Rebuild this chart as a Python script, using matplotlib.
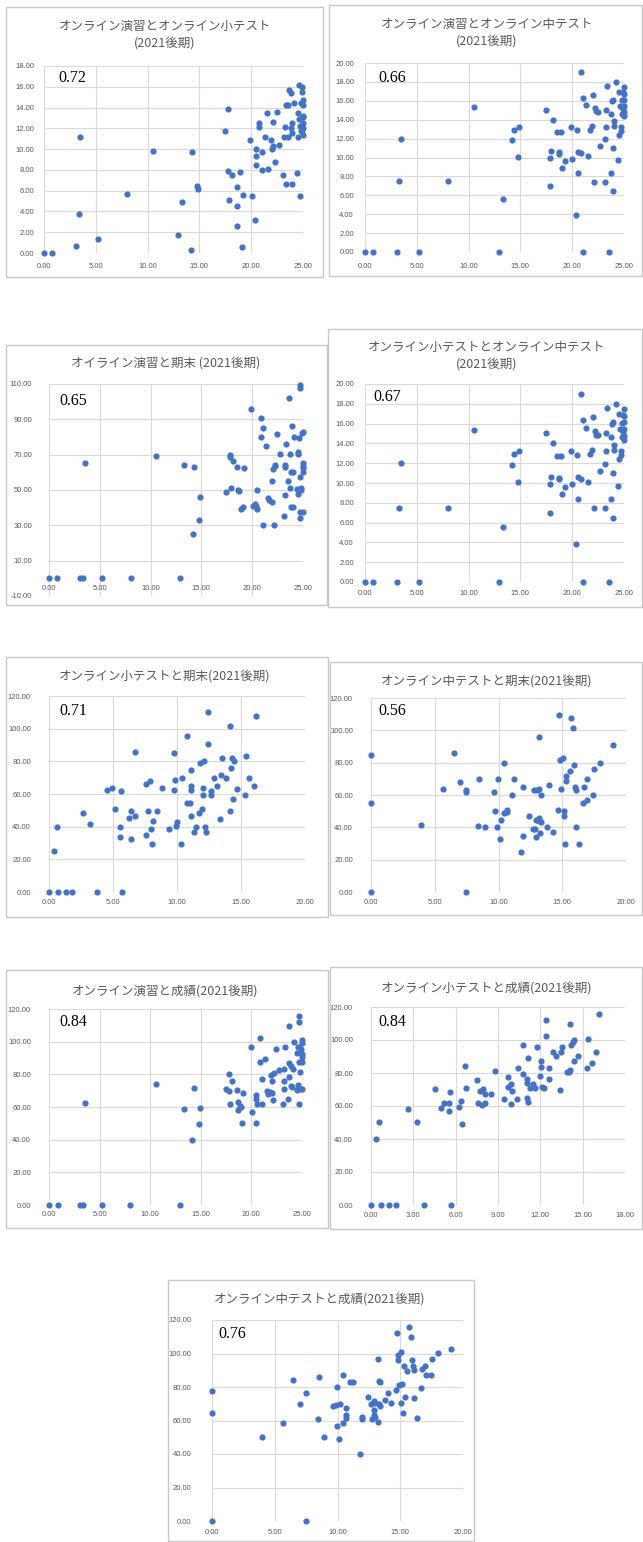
import numpy as np
import matplotlib
matplotlib.use("Agg")
import matplotlib.pyplot as plt
from matplotlib.patches import Rectangle
from matplotlib.ticker import FormatStrFormatter

# オンライン演習 / 小テスト / 中テスト / 期末 / 成績 (2021後期)

# 演習 vs 小テスト
p1_x = [0, 0.77, 3.5, 3.35, 3.1, 5.2, 7.98, 10.5, 12.9, 13.35, 14.15, 14.3, 14.74, 14.9,
        17.43, 17.8, 17.8, 17.9, 18.15, 18.6, 18.66, 18.66, 18.95, 19.08, 19.18, 19.88,
        20.04, 20.4, 20.43, 20.5, 20.5, 20.8, 20.8, 21.04, 21.04, 21.3, 21.52, 21.65,
        21.94, 22.04, 22.1, 22.1, 22.26, 22.5, 22.68, 23.1, 23.2, 23.23, 23.33, 23.33,
        23.58, 23.6, 23.68, 23.8, 23.84, 23.9, 23.94, 23.97, 24.1, 24.38, 24.5, 24.5,
        24.58, 24.64, 24.68, 24.74, 24.84, 24.87, 24.9, 24.95, 25, 25, 25, 25, 25, 25,
        25, 24.8]
p1_y = [0, 0, 11.16, 3.74, 0.67, 1.31, 5.66, 9.85, 1.73, 4.92, 0.32, 9.72, 6.42, 6.2,
        11.7, 13.9, 7.86, 5.12, 7.54, 4.5, 6.36, 2.62, 7.83, 0.58, 5.6, 10.87,
        5.5, 3.2, 9.33, 8.47, 9.97, 12.5, 12.14, 9.69, 8.02, 11.2, 13.43, 8.05,
        10.87, 10.0, 12.6, 10.3, 8.76, 13.55, 10.39, 7.54, 11.13, 12.14, 6.68, 14.2,
        11.16, 14.2, 15.66, 15.4, 12.05, 6.62, 11.54, 12.56, 14.48, 7.7, 13.5, 11.16,
        12.88, 16.2, 5.53, 12.2, 14.4, 11.83, 16.0, 15.5, 14.75, 14.2, 13.2, 13.1, 12.5,
        12.0, 11.4, 11.7]

# 演習 vs 中テスト
p2_x = [0, 0.8, 3.13, 5.26, 12.97, 21.06, 23.58, 3.52, 3.32, 8.03, 10.55, 13.35, 14.16,
        14.35, 14.9, 14.77, 17.45, 17.84, 17.87, 17.97, 18.16, 18.55, 18.71, 18.71, 18.94,
        19.06, 19.26, 19.9, 20.0, 20.39, 20.48, 20.52, 20.58, 20.84, 20.87, 21.06, 22.1,
        21.35, 21.55, 21.68, 21.9, 22.0, 22.19, 22.26, 22.45, 22.71, 23.16, 23.19, 23.23,
        23.29, 23.32, 23.74, 23.74, 23.81, 23.9, 23.97, 24.0, 24.0, 23.94, 24.19, 24.42,
        24.52, 24.55, 24.58, 24.71, 24.71, 24.77, 24.87, 24.94, 25, 25, 25, 25, 25, 25,
        24.84]
p2_y = [0, 0, 0, 0, 0, 0, 0, 11.99, 7.48, 7.48, 15.34, 5.57, 11.85,
        12.95, 13.23, 10.09, 15.06, 6.95, 9.91, 10.65, 14.0, 12.7, 10.55, 10.37, 12.7,
        8.85, 9.59, 13.23, 9.88, 3.88, 12.87, 8.36, 10.58, 19.01, 10.44, 16.33, 7.44,
        15.56, 10.12, 12.95, 13.3, 16.65, 15.24, 14.89, 14.85, 11.18, 11.96, 7.44, 13.23,
        15.06, 17.6, 8.4, 14.64, 15.94, 11.04, 6.42, 13.83, 13.37, 16.12, 17.99, 9.7,
        16.93, 12.42, 15.41, 12.84, 13.23, 16.05, 16.9, 15.13, 17.46, 16.75, 16.12, 15.48,
        14.78, 14.36, 14.6]

# 演習 vs 期末
p3_x = [0, 0.79, 3.06, 3.32, 5.26, 8.03, 12.9, 3.52, 10.49, 13.32, 14.31, 14.14, 14.77,
        14.87, 17.43, 17.8, 17.83, 17.93, 18.09, 18.52, 18.65, 18.68, 18.88, 19.05, 19.18,
        19.9, 20.03, 20.23, 20.4, 20.43, 20.46, 20.82, 20.82, 21.02, 21.05, 21.32, 21.51,
        21.68, 21.94, 21.94, 22.04, 22.17, 22.2, 22.24, 22.47, 22.7, 23.09, 23.19, 23.19,
        23.29, 23.26, 23.52, 23.65, 23.68, 23.72, 23.82, 23.85, 23.91, 23.98, 24.05, 24.14,
        24.37, 24.47, 24.5, 24.54, 24.64, 24.67, 24.67, 24.67, 24.7, 24.74, 24.8, 24.93,
        24.97, 24.97, 24.97, 24.97, 24.97, 24.97, 24.84]
p3_y = [0, 0, 0, 0, 0, 0, 0, 65.2, 69.2, 64.1, 63.2, 25.3, 33.3,
        46.3, 48.8, 70.0, 68.4, 51.4, 66.6, 63.2, 49.9, 49.2, 39.3, 40.5, 62.2,
        95.9, 40.7, 42.0, 41.2, 39.5, 50.1, 90.9, 80.0, 85.1, 30.3, 75.1, 45.4,
        44.4, 43.3, 55.2, 62.0, 30.3, 63.7, 64.3, 81.9, 70.2, 35.4, 63.3, 64.1,
        76.0, 47.3, 55.0, 101.9, 51.1, 70.2, 40.1, 60.3, 86.2, 40.1, 60.3, 80.2,
        50.5, 71.5, 70.2, 47.5, 79.2, 34.4, 107.8, 109.7, 57.1, 37.4, 50.0, 82.1,
        83.0, 65.4, 63.7, 62.2, 60.0, 37.4, 50.9]

# 小テスト vs 中テスト (same values as the 演習 vs 中テスト sheet)
p4_x = list(p2_x)
p4_y = list(p2_y)

# 小テスト vs 期末
p5_x = [0, 0.73, 1.36, 1.77, 3.78, 5.71, 0.37, 0.6, 2.66, 3.23, 4.54, 4.95, 5.16, 5.63,
        5.53, 5.55, 6.28, 6.41, 6.44, 6.68, 6.73, 7.56, 7.56, 7.77, 7.9, 7.93, 8.11, 8.03,
        8.47, 8.84, 9.41, 9.73, 9.75, 9.88, 9.93, 10.01, 10.38, 10.35, 10.82, 10.82,
        11.03, 11.08, 11.13, 11.08, 11.13, 11.29, 11.5, 11.79, 11.68, 11.99, 12.1, 12.07,
        12.07, 12.15, 12.26, 12.46, 12.44, 12.62, 12.62, 12.91, 13.14, 13.38, 13.48, 13.45,
        13.84, 14.13, 14.13, 14.18, 14.26, 14.39, 14.42, 14.7, 15.31, 15.41, 15.6, 15.98,
        16.17]
p5_y = [0, 0, 0, 0, 0, 0, 24.9, 39.6, 48.6, 41.6, 62.7, 63.7, 50.6, 61.6,
        39.8, 33.7, 45.5, 49.6, 32.4, 85.9, 46.5, 65.9, 34.7, 49.6, 67.8, 38.6, 43.7, 29.6,
        49.6, 63.9, 38.6, 84.9, 62.7, 68.8, 40.6, 42.7, 70.0, 29.6, 95.7, 54.7,
        54.7, 46.5, 74.9, 62.7, 64.9, 36.5, 39.8, 78.8, 48.6, 50.6, 80.0, 63.9,
        59.6, 39.8, 36.7, 110.0, 90.8, 61.8, 59.6, 69.8, 64.9, 44.7, 82.0, 71.8,
        69.8, 101.8, 49.6, 75.9, 82.0, 56.7, 80.0, 62.9, 59.6, 83.1, 69.8, 64.9,
        107.8]

# 中テスト vs 期末
p6_x = [0, 0, 0, 3.92, 5.62, 6.48, 6.98, 7.45, 7.45, 7.48, 8.39, 8.5, 8.92, 9.68, 9.75,
        9.91, 9.99, 10.12, 10.2, 10.4, 10.46, 10.67, 10.69, 11.06, 11.22, 11.79, 11.92,
        11.95, 12.42, 12.71, 12.79, 12.89, 12.92, 12.94, 13.0, 13.18, 13.18, 13.2, 13.2,
        13.26, 13.31, 13.36, 13.8, 13.99, 14.3, 14.72, 14.67, 14.8, 14.93, 15.06, 15.11,
        15.11, 15.22, 15.3, 15.32, 15.58, 15.71, 15.82, 15.92, 16.03, 16.05, 16.08, 16.31,
        16.6, 16.71, 16.94, 16.97, 17.44, 17.52, 17.93, 18.95]
p6_y = [0, 84.9, 54.8, 41.7, 63.6, 85.7, 67.8, 62.8, 61.6, 0, 40.9, 69.6, 39.9, 61.8, 49.8,
        39.9, 69.6, 32.9, 44.8, 79.8, 48.6, 50.8, 49.6, 59.7, 69.8, 24.8, 34.7,
        64.9, 46.9, 39.0, 62.8, 39.0, 33.9, 44.6, 63.0, 63.6, 43.8, 95.7, 45.9,
        36.6, 59.9, 43.0, 40.1, 65.9, 37.0, 109.7, 50.8, 81.6, 63.6, 82.6, 49.8,
        47.1, 29.8, 71.7, 68.8, 74.8, 107.9, 101.7, 78.7, 64.9, 63.0, 39.9, 29.8,
        54.8, 64.9, 69.8, 56.8, 59.7, 75.8, 79.8, 90.9]

# 演習 vs 成績
p7_x = [0, 0.86, 3.1, 3.36, 5.27, 8.04, 12.91, 3.56, 10.57, 13.37, 14.36, 14.16, 14.82,
        14.89, 17.49, 17.79, 17.82, 17.92, 18.12, 18.54, 18.68, 18.68, 18.84, 18.94, 19.04,
        19.2, 19.96, 20.03, 20.42, 20.45, 20.49, 20.59, 20.85, 20.85, 21.02, 21.05, 21.31,
        21.5, 21.67, 21.87, 21.9, 22.03, 22.07, 22.17, 22.2, 22.46, 22.69, 23.09, 23.19,
        23.19, 23.26, 23.32, 23.59, 23.68, 23.72, 23.75, 23.88, 23.91, 24.05, 24.1, 24.17,
        24.47, 24.54, 24.57, 24.64, 24.67, 24.7, 24.7, 24.74, 24.8, 24.87, 24.93, 24.97,
        24.97, 24.97, 24.97, 24.97, 25.0]
p7_y = [0, 0, 0, 0, 0, 0, 0, 62.2, 73.8, 58.7, 71.6, 39.9, 49.3,
        59.3, 70.8, 70.1, 80.2, 61.6, 76.1, 70.3, 63.2, 58.3, 60.9, 59.9, 50.1,
        68.5, 96.5, 57.1, 50.3, 67.1, 65.0, 61.6, 87.5, 102.0, 77.3, 61.6, 89.4,
        69.9, 68.1, 69.1, 79.8, 68.7, 76.1, 64.2, 81.0, 95.7, 82.8, 61.6, 76.1,
        83.2, 71.0, 96.7, 65.0, 109.6, 78.3, 86.7, 85.1, 73.0, 72.0, 83.0, 100.0,
        70.3, 93.0, 73.6, 96.5, 115.7, 61.6, 112.3, 87.3, 81.6, 71.2, 95.3, 101.2,
        99.4, 92.6, 90.8, 87.3, 70.8]

# 小テスト vs 成績
p8_x = [0, 0.71, 1.3, 1.77, 3.77, 5.66, 0.35, 0.57, 2.64, 3.23, 4.51, 4.95, 5.17, 5.52,
        5.52, 5.61, 6.25, 6.39, 6.44, 6.65, 6.7, 7.53, 7.57, 7.74, 7.88, 7.95, 8.09, 8.09,
        8.47, 8.82, 9.41, 9.72, 9.74, 9.91, 9.98, 9.93, 10.33, 10.4, 10.8, 10.8, 11.02,
        11.02, 11.09, 11.13, 11.16, 11.28, 11.47, 11.63, 11.77, 11.98, 12.05, 12.08, 12.15,
        12.27, 12.43, 12.43, 12.62, 12.62, 12.9, 13.14, 13.42, 13.45, 13.54, 13.89, 14.01,
        14.13, 14.13, 14.18, 14.3, 14.39, 14.41, 14.7, 15.33, 15.4, 15.64, 15.97, 16.18]
p8_y = [0, 0, 0, 0, 0, 0, 39.8, 50.1, 58.2, 50.3, 70.5, 58.8, 61.8, 61.8,
        57.2, 68.5, 59.4, 63.2, 49.3, 84.2, 70.9, 76.0, 61.8, 69.3, 60.8, 70.1, 67.1, 61.8,
        67.1, 81.2, 64.2, 77.4, 71.5, 73.5, 69.1, 61.0, 64.2, 82.8, 79.6, 96.8, 65.1,
        74.1, 76.6, 62.4, 89.3, 70.9, 73.1, 71.1, 96.0, 78.4, 87.5, 83.8, 71.7,
        70.7, 112.3, 102.2, 82.8, 76.2, 92.9, 90.5, 69.7, 92.9, 96.0, 80.4, 80.8,
        109.5, 81.8, 96.8, 98.8, 87.5, 100.2, 90.3, 83.0, 100.8, 86.3, 92.5, 116.0]

# 中テスト vs 成績
p9_x = [0, 0, 0, 3.95, 5.62, 6.49, 7.02, 7.5, 7.5, 8.42, 8.5, 8.93, 9.67, 9.93, 9.93,
        9.88, 10.15, 10.23, 10.44, 10.41, 10.65, 10.68, 10.7, 11.02, 11.2, 11.81, 11.95,
        11.95, 12.42, 12.69, 12.77, 12.87, 12.93, 12.93, 13.0, 13.0, 13.22, 13.22, 13.27,
        13.3, 13.35, 13.38, 13.8, 13.99, 14.28, 14.73, 14.65, 14.83, 14.81, 14.91, 15.05,
        15.05, 15.16, 15.18, 15.31, 15.34, 15.55, 15.7, 15.86, 15.97, 16.03, 16.08, 16.08,
        16.32, 16.66, 16.74, 17.0, 17.03, 17.48, 17.56, 17.99, 19.02]
p9_y = [0, 77.4, 64.7, 50.3, 58.7, 84.2, 70.0, 76.2, 0, 61.1, 86.2, 50.1, 68.7, 80.2, 56.9,
        69.5, 49.2, 69.9, 87.2, 58.3, 67.3, 63.3, 61.3, 83.2, 82.8, 39.8, 62.3,
        61.1, 73.8, 70.0, 61.1, 71.6, 63.3, 66.5, 70.7, 62.3, 96.7, 59.3, 69.9,
        83.4, 68.7, 82.8, 72.2, 76.2, 70.7, 112.4, 78.2, 96.1, 99.1, 81.0, 100.9,
        70.7, 81.6, 64.3, 92.5, 73.8, 89.6, 116.0, 109.7, 96.1, 92.5, 90.1, 73.4,
        61.5, 79.6, 90.7, 92.7, 87.2, 87.2, 96.9, 100.5, 102.5]

titles = [
    "オンライン演習とオンライン小テスト\n(2021後期)",
    "オンライン演習とオンライン中テスト\n(2021後期)",
    "オイライン演習と期末 (2021後期)",
    "オンライン小テストとオンライン中テスト\n(2021後期)",
    "オンライン小テストと期末(2021後期)",
    "オンライン中テストと期末(2021後期)",
    "オンライン演習と成績(2021後期)",
    "オンライン小テストと成績(2021後期)",
    "オンライン中テストと成績(2021後期)",
]
corr_labels = ["0.72", "0.66", "0.65", "0.67", "0.71", "0.56", "0.84", "0.84", "0.76"]

# axis scales: (xmax, xstep, ymin, ymax, ystep)
scales = [
    (25, 5, 0, 18, 2),
    (25, 5, 0, 20, 2),
    (25, 5, -10, 110, 20),
    (25, 5, 0, 20, 2),
    (20, 5, 0, 120, 20),
    (20, 5, 0, 120, 20),
    (25, 5, 0, 120, 20),
    (18, 3, 0, 120, 20),
    (20, 5, 0, 120, 20),
]

series = [(p1_x, p1_y), (p2_x, p2_y), (p3_x, p3_y), (p4_x, p4_y), (p5_x, p5_y),
          (p6_x, p6_y), (p7_x, p7_y), (p8_x, p8_y), (p9_x, p9_y)]

# layout in pixels
W, H = 643, 1542
# chart frame: left, right, top, bottom
frames = [(6, 323, 7, 277), (329, 642, 5, 276), (6, 327, 345, 605), (328, 642, 329, 607),
          (6, 328, 657, 917), (330, 642, 662, 915), (6, 328, 970, 1228),
          (330, 642, 967, 1229), (168, 474, 1280, 1541)]
# plot area: left, right, top, bottom
plots = [(44, 303, 66, 253), (365, 624, 63, 252), (49, 303, 384, 596), (365, 624, 384, 582),
         (49, 305, 696, 892), (371, 626, 698, 892), (49, 302, 1009, 1205),
         (371, 625, 1007, 1205), (212, 463, 1320, 1521)]
# title centre (x, y)
title_pos = [(165, 35), (487, 33), (166, 363), (487, 356), (165, 676), (487, 681),
             (165, 991), (487, 988), (320, 1299)]
# r label left / centre y
corr_pos = [(58, 78), (378, 78), (59, 401), (373, 397), (59, 711), (378, 711),
            (59, 1022), (378, 1022), (218, 1334)]
ypads = [7, 8, 12, 8, 13, 13, 13, 13, 15]
xpads = [7, 8, 5, 6, 5, 5, 4.5, 5, 6]

DOT = "#4472C4"
GRID = "#D9D9D9"
TXT = "#595959"
FRAME = "#C8C8C8"

fig = plt.figure(figsize=(W / 100, H / 100), dpi=100)
fig.patch.set_facecolor("white")

for i in range(len(series)):
    fl, fr, ft, fb = frames[i]
    fig.add_artist(Rectangle((fl / W, 1 - fb / H), (fr - fl) / W, (fb - ft) / H,
                             transform=fig.transFigure, fill=False, ec=FRAME, lw=1.0))

    x0, x1, yt, yb = plots[i]
    ax = fig.add_axes([x0 / W, 1 - yb / H, (x1 - x0) / W, (yb - yt) / H])
    xmax, xstep, ymin, ymax, ystep = scales[i]
    xs, ys = series[i]

    ax.scatter(xs, ys, s=20, color=DOT, linewidths=0, zorder=3, clip_on=False)

    ax.set_xlim(0, xmax)
    ax.set_ylim(ymin, ymax)
    ax.set_xticks(np.arange(0, xmax + 0.01, xstep))
    ax.set_yticks(np.arange(ymin, ymax + 0.01, ystep))
    ax.xaxis.set_major_formatter(FormatStrFormatter("%.2f"))
    ax.yaxis.set_major_formatter(FormatStrFormatter("%.2f"))
    ax.grid(True, color=GRID, lw=0.8)
    ax.set_axisbelow(True)
    for side in ax.spines:
        ax.spines[side].set_visible(False)
    if ymin < 0:
        # horizontal axis crosses at zero
        ax.spines["bottom"].set_position(("data", 0))
    ax.tick_params(axis="both", length=0, labelsize=5.5, labelcolor=TXT)
    ax.tick_params(axis="y", pad=ypads[i])
    ax.tick_params(axis="x", pad=xpads[i])
    for lab in ax.get_xticklabels() + ax.get_yticklabels():
        lab.set_fontfamily("Liberation Sans")

    tx, ty = title_pos[i]
    fig.text(tx / W, 1 - ty / H, titles[i], ha="center", va="center",
             fontsize=9, color=TXT, family=["Noto Sans CJK JP", "DejaVu Sans"],
             linespacing=1.35)

    cx, cy = corr_pos[i]
    fig.text(cx / W, 1 - cy / H, corr_labels[i], ha="left", va="center",
             fontsize=11.5, color="black", family="Liberation Serif")

fig.savefig("out.png", dpi=100, facecolor="white")
